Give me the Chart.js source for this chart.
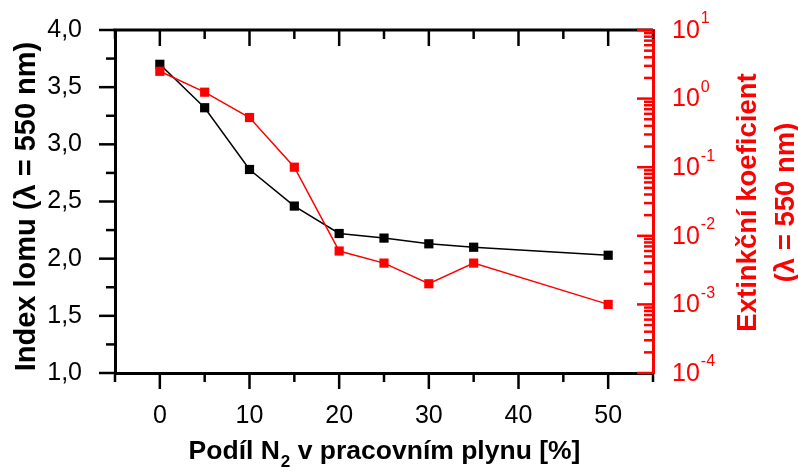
<!DOCTYPE html>
<html>
<head>
<meta charset="utf-8">
<script src="https://cdn.jsdelivr.net/npm/chart.js@4"></script>
<style>
  html, body { margin: 0; padding: 0; background: #fff; }
  #wrap { width: 798px; height: 473px; }
</style>
</head>
<body>
<div id="wrap"><canvas id="graf" width="798" height="473"></canvas></div>
<script>
// podil N2 v pracovnim plynu [%]
const podilN2 = [0, 5, 10, 15, 20, 25, 30, 35, 50];
// index lomu pri 550 nm
const indexLomu = [3.70, 3.32, 2.78, 2.46, 2.22, 2.18, 2.13, 2.10, 2.03];
// extinkcni koeficient pri 550 nm
const extinkce = [2.5, 1.24, 0.53, 0.10, 0.006, 0.004, 0.002, 0.004, 0.001];

const xTicks = [0, 10, 20, 30, 40, 50];
const xMinor = [-5, 5, 15, 25, 35, 45, 55];
const yTicks = [1.0, 1.5, 2.0, 2.5, 3.0, 3.5, 4.0];
const yMinor = [1.25, 1.75, 2.25, 2.75, 3.25, 3.75];
const logTicks = [1e-4, 1e-3, 1e-2, 1e-1, 1e0, 1e1];
const logExp = [-4, -3, -2, -1, 0, 1];

const FONT = '"Liberation Sans", Arial, sans-serif';
const RED = '#ff0000';

const osyPlugin = {
  id: 'osy',
  afterDraw(chart) {
    const ctx = chart.ctx;
    const a = chart.chartArea;
    const sx = chart.scales.x, sy = chart.scales.y, sr = chart.scales.y2;
    ctx.save();
    ctx.lineCap = 'butt';

    // horni osa
    ctx.strokeStyle = '#000';
    ctx.lineWidth = 3;
    ctx.beginPath();
    ctx.moveTo(a.left - 1.5, a.top);
    ctx.lineTo(a.right, a.top);
    ctx.stroke();

    ctx.lineWidth = 2.5;
    const tick = (x1, y1, x2, y2) => { ctx.beginPath(); ctx.moveTo(x1, y1); ctx.lineTo(x2, y2); ctx.stroke(); };

    xTicks.forEach(v => {
      const px = sx.getPixelForValue(v);
      tick(px, a.bottom, px, a.bottom + 16);
      tick(px, a.top, px, a.top + 16);
    });
    xMinor.forEach(v => {
      const px = sx.getPixelForValue(v);
      tick(px, a.bottom, px, a.bottom + 9);
      tick(px, a.top, px, a.top + 9);
    });
    yTicks.forEach(v => {
      const py = sy.getPixelForValue(v);
      tick(a.left - 16, py, a.left, py);
    });
    yMinor.forEach(v => {
      const py = sy.getPixelForValue(v);
      tick(a.left - 9, py, a.left, py);
    });

    // prava logaritmicka osa
    ctx.strokeStyle = RED;
    ctx.fillStyle = RED;
    logTicks.forEach((v, i) => {
      const py = sr.getPixelForValue(v);
      tick(a.right - 16, py, a.right, py);
      if (i < logTicks.length - 1) {
        for (let m = 2; m <= 9; m++) {
          const pm = sr.getPixelForValue(v * m);
          tick(a.right - 9, pm, a.right, pm);
        }
      }
      ctx.textBaseline = 'middle';
      ctx.textAlign = 'left';
      ctx.font = '25px ' + FONT;
      const lx = a.right + 19;
      ctx.fillText('10', lx, py + 1);
      const w = ctx.measureText('10').width;
      ctx.font = '16px ' + FONT;
      ctx.fillText(String(logExp[i]), lx + w + 1, py - 11);
    });

    // popisky os
    const cy = (a.top + a.bottom) / 2;
    ctx.textAlign = 'center';
    ctx.textBaseline = 'middle';

    ctx.save();
    ctx.font = 'bold 27.5px ' + FONT;
    ctx.translate(748, cy + 1);
    ctx.rotate(-Math.PI / 2);
    ctx.fillText('Extinkční koeficient', 0, 0);
    ctx.fillText('(λ = 550 nm)', 0, 38);
    ctx.restore();

    ctx.fillStyle = '#000';
    ctx.save();
    ctx.font = 'bold 29px ' + FONT;
    ctx.translate(27, cy + 5);
    ctx.rotate(-Math.PI / 2);
    ctx.fillText('Index lomu (λ = 550 nm)', 0, 0);
    ctx.restore();

    // titulek osy x s dolnim indexem
    const t1 = 'Podíl N', t2 = '2', t3 = ' v pracovním plynu [%]';
    ctx.font = 'bold 26.5px ' + FONT;
    const w1 = ctx.measureText(t1).width, w3 = ctx.measureText(t3).width;
    ctx.font = 'bold 17px ' + FONT;
    const w2 = ctx.measureText(t2).width;
    const cx = (a.left + a.right) / 2;
    const x0 = cx - (w1 + w2 + w3) / 2;
    const ty = 452;
    ctx.textAlign = 'left';
    ctx.font = 'bold 26.5px ' + FONT;
    ctx.fillText(t1, x0, ty);
    ctx.font = 'bold 17px ' + FONT;
    ctx.fillText(t2, x0 + w1 + 1, ty + 10);
    ctx.font = 'bold 26.5px ' + FONT;
    ctx.fillText(t3, x0 + w1 + w2 + 1, ty);
    ctx.restore();
  }
};

const bezOkraju = (s) => { s.paddingTop = 0; s.paddingBottom = 0; };

new Chart(document.getElementById('graf'), {
  type: 'line',
  data: {
    datasets: [
      {
        label: 'Extinkční koeficient',
        data: podilN2.map((x, i) => ({ x: x, y: extinkce[i] })),
        yAxisID: 'y2',
        borderColor: RED,
        backgroundColor: RED,
        borderWidth: 1.5,
        pointStyle: 'rect',
        pointRadius: 6.5,
        pointBorderWidth: 0,
        tension: 0,
      },
      {
        label: 'Index lomu',
        data: podilN2.map((x, i) => ({ x: x, y: indexLomu[i] })),
        yAxisID: 'y',
        borderColor: '#000',
        backgroundColor: '#000',
        borderWidth: 1.5,
        pointStyle: 'rect',
        pointRadius: 6.5,
        pointBorderWidth: 0,
        tension: 0,
      },
    ],
  },
  options: {
    responsive: false,
    animation: false,
    events: [],
    layout: { padding: { top: 30, left: 0, right: 0, bottom: 0 } },
    plugins: { legend: { display: false }, tooltip: { enabled: false } },
    scales: {
      x: {
        type: 'linear',
        min: -5,
        max: 55,
        grid: { display: false },
        border: { display: true, color: '#000', width: 3 },
        afterBuildTicks: (s) => { s.ticks = xTicks.map(v => ({ value: v })); },
        afterFit: (s) => { s.height = 100; s.paddingLeft = 0; s.paddingRight = 0; },
        ticks: { color: '#000', font: { family: FONT, size: 25 }, padding: 20, maxRotation: 0 },
      },
      y: {
        type: 'linear',
        position: 'left',
        min: 1,
        max: 4,
        grid: { display: false },
        border: { display: true, color: '#000', width: 3 },
        afterBuildTicks: (s) => { s.ticks = yTicks.map(v => ({ value: v })); },
        afterFit: (s) => { s.width = 115; bezOkraju(s); },
        ticks: {
          color: '#000',
          font: { family: FONT, size: 25 },
          padding: 25,
          callback: (v) => v.toFixed(1).replace('.', ','),
        },
      },
      y2: {
        type: 'logarithmic',
        position: 'right',
        min: 1e-4,
        max: 10,
        grid: { display: false },
        border: { display: true, color: RED, width: 3 },
        afterFit: (s) => { s.width = 145; bezOkraju(s); },
        ticks: { display: false },
      },
    },
  },
  plugins: [osyPlugin],
});
</script>
</body>
</html>
